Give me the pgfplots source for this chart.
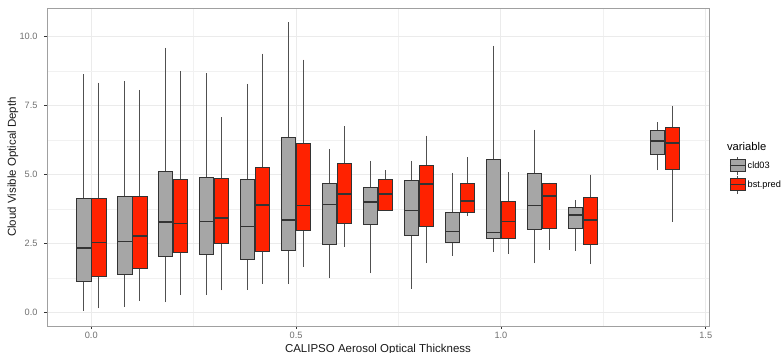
\documentclass[border=0pt]{standalone}
\usepackage{fontspec}
\setmainfont{Liberation Sans}
\usepackage{pgfplots}
\usepgfplotslibrary{statistics}
\pgfplotsset{compat=1.18}
\definecolor{boxgray}{HTML}{A6A6A6}
\definecolor{boxred}{HTML}{FF2200}
\definecolor{edge}{HTML}{333333}
\definecolor{whisk}{HTML}{505050}
\definecolor{gridc}{HTML}{EBEBEB}
\definecolor{tickc}{HTML}{707070}
\definecolor{borderc}{HTML}{A0A0A0}
\newcommand\bx[7]{\addplot[#1, boxplot prepared={draw position=#2, lower whisker=#3, lower quartile=#4, median=#5, upper quartile=#6, upper whisker=#7}] coordinates {};}
\begin{document}
\begin{tikzpicture}
\begin{axis}[
  at={(0,0)}, anchor=south west,
  scale only axis, width=662pt, height=318pt, clip=false,
  xmin=-0.108, xmax=1.508, ymin=-0.49, ymax=11.03,
  xtick={0,0.5,1,1.5}, xticklabels={0.0,0.5,1.0,1.5},
  ytick={0,2.5,5,7.5,10}, yticklabels={0.0,2.5,5.0,7.5,10.0},
  minor xtick={0.25,0.75,1.25}, minor ytick={1.25,3.75,6.25,8.75},
  grid=both,
  major grid style={draw=gridc, line width=0.9pt},
  minor grid style={draw=gridc!70!white, line width=0.5pt},
  tick align=outside, tick pos=left,
  major tick length=3pt, minor tick length=0pt,
  tick style={draw=edge, line width=0.5pt},
  axis line style={draw=borderc, line width=0.6pt},
  ticklabel style={font=\fontsize{9.2}{11}\selectfont, text=tickc},
  yticklabel style={xshift=-3pt},
  xlabel={CALIPSO Aerosol Optical Thickness},
  ylabel={Cloud Visible Optical Depth},
  label style={font=\fontsize{11.5}{13}\selectfont, text=black!90},
  xlabel style={at={(axis description cs:0.5,-0.0755)}, anchor=center},
  ylabel style={at={(axis description cs:-0.0514,0.5)}, anchor=center},
  boxplot/draw direction=y,
  boxplot/box extend=0.035,
  boxplot/whisker extend=0,
  boxplot/every whisker/.style={draw=whisk, line width=0.8pt},
  boxplot/every median/.style={draw=edge, line width=1.6pt},
  gb/.style={forget plot, draw=edge, fill=boxgray, line width=0.7pt, solid},
  rb/.style={forget plot, draw=edge, fill=boxred, line width=0.7pt, solid},
  legend style={draw=none, fill=none, at={(axis description cs:1.030,0.535)}, anchor=north west,
    font=\fontsize{9.2}{11}\selectfont, row sep=0pt, inner sep=0pt,
    cells={anchor=west}},
]
% group 0.0
\bx{gb}{-0.0183}{0.07}{1.14}{2.34}{4.14}{8.63}
\bx{rb}{0.0183}{0.15}{1.32}{2.53}{4.14}{8.33}
% 0.1
\bx{gb}{0.0817}{0.19}{1.38}{2.57}{4.20}{8.39}
\bx{rb}{0.1183}{0.42}{1.59}{2.78}{4.22}{8.06}
% 0.2
\bx{gb}{0.1817}{0.37}{2.04}{3.27}{5.12}{9.59}
\bx{rb}{0.2183}{0.63}{2.17}{3.22}{4.83}{8.75}
% 0.3
\bx{gb}{0.2817}{0.63}{2.12}{3.29}{4.88}{8.67}
\bx{rb}{0.3183}{0.80}{2.52}{3.42}{4.86}{7.08}
% 0.4
\bx{gb}{0.3817}{0.82}{1.91}{3.12}{4.84}{8.29}
\bx{rb}{0.4183}{1.04}{2.20}{3.89}{5.24}{9.38}
% 0.5
\bx{gb}{0.4817}{1.03}{2.24}{3.35}{6.36}{10.51}
\bx{rb}{0.5183}{1.66}{2.96}{3.88}{6.14}{9.16}
% 0.6
\bx{gb}{0.5817}{1.24}{2.48}{3.91}{4.66}{5.91}
\bx{rb}{0.6183}{2.38}{3.22}{4.29}{5.41}{6.75}
% 0.7
\bx{gb}{0.6817}{1.42}{3.20}{4.01}{4.55}{5.50}
\bx{rb}{0.7183}{3.71}{3.71}{4.30}{4.84}{5.15}
% 0.8
\bx{gb}{0.7817}{0.86}{2.80}{3.70}{4.79}{5.50}
\bx{rb}{0.8183}{1.79}{3.11}{4.66}{5.32}{6.41}
% 0.9
\bx{gb}{0.8817}{2.05}{2.54}{2.94}{3.63}{5.07}
\bx{rb}{0.9183}{3.49}{3.62}{4.03}{4.69}{5.62}
% 1.0
\bx{gb}{0.9817}{2.20}{2.67}{2.89}{5.56}{9.67}
\bx{rb}{1.0183}{2.13}{2.69}{3.30}{4.01}{5.08}
% 1.1
\bx{gb}{1.0817}{1.78}{3.01}{3.88}{5.03}{6.62}
\bx{rb}{1.1183}{2.28}{3.04}{4.21}{4.66}{4.70}
% 1.2
\bx{gb}{1.1817}{2.24}{3.03}{3.53}{3.82}{4.08}
\bx{rb}{1.2183}{1.75}{2.48}{3.34}{4.18}{4.99}
% 1.4
\bx{gb}{1.3817}{5.15}{5.72}{6.22}{6.61}{6.89}
\bx{rb}{1.4183}{3.29}{5.20}{6.15}{6.71}{7.48}
% legend
\addlegendimage{draw=none, fill=none, legend image code/.code={
  \path[draw=none, fill=none] (0pt,-9.5pt) rectangle (15pt,9.5pt);
  \draw[draw=whisk, line width=0.8pt] (7.5pt,6pt)--(7.5pt,9pt) (7.5pt,-6pt)--(7.5pt,-9pt);
  \draw[draw=edge, fill=boxgray, line width=0.7pt] (0pt,-6pt) rectangle (15pt,6pt);
  \draw[draw=edge, line width=1.6pt] (0pt,0pt)--(15pt,0pt);}}
\addlegendentry{cld03}
\addlegendimage{draw=none, fill=none, legend image code/.code={
  \path[draw=none, fill=none] (0pt,-9.5pt) rectangle (15pt,9.5pt);
  \draw[draw=whisk, line width=0.8pt] (7.5pt,6pt)--(7.5pt,9pt) (7.5pt,-6pt)--(7.5pt,-9pt);
  \draw[draw=edge, fill=boxred, line width=0.7pt] (0pt,-6pt) rectangle (15pt,6pt);
  \draw[draw=edge, line width=1.6pt] (0pt,0pt)--(15pt,0pt);}}
\addlegendentry{bst.pred}
\node[anchor=west, inner sep=0pt, font=\fontsize{11.2}{13}\selectfont] at (axis description cs:1.027,0.563) {variable};
\end{axis}
\pgfresetboundingbox
\useasboundingbox (-47pt,-27pt) rectangle (737pt,326pt);
\end{tikzpicture}
\end{document}
